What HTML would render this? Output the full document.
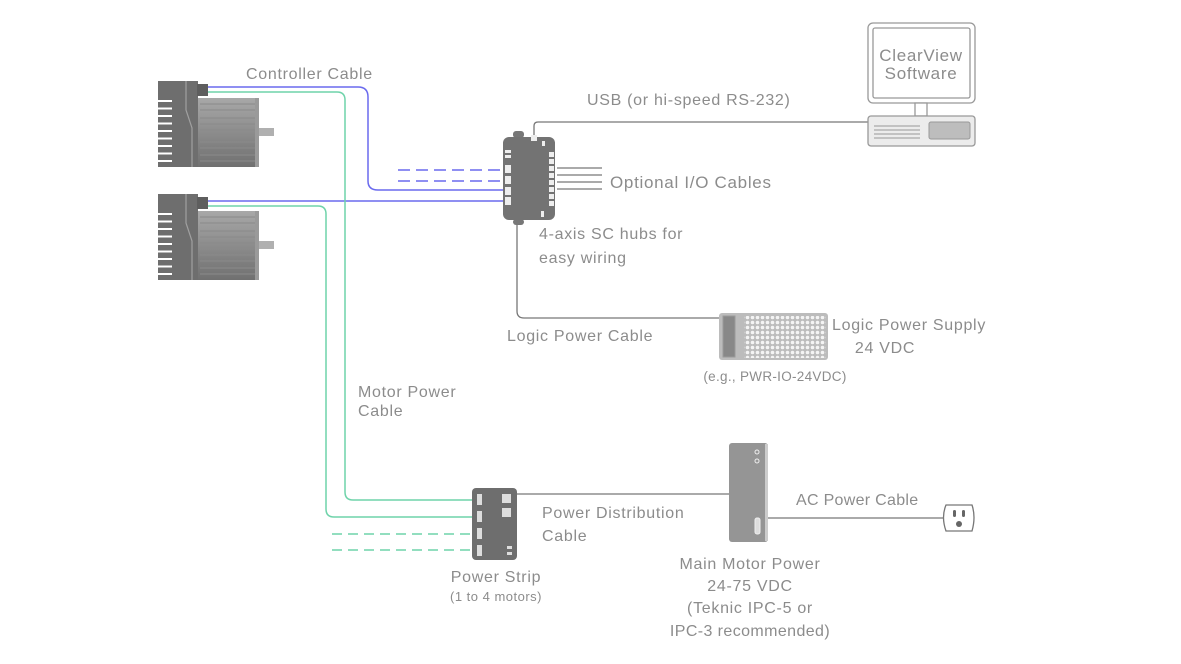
<!DOCTYPE html>
<html><head><meta charset="utf-8"><style>
body{margin:0;background:#fff}
svg{display:block}
text{font-family:"Liberation Sans",sans-serif;fill:#8c8c8c;font-size:16px;letter-spacing:0.7px}
</style></head><body>
<svg width="1181" height="664" viewBox="0 0 1181 664" xmlns="http://www.w3.org/2000/svg">
<defs>
<linearGradient id="mg" x1="0" y1="0" x2="0" y2="1"><stop offset="0" stop-color="#a8a8a8"/><stop offset="1" stop-color="#707070"/></linearGradient>
<g id="motor">
<rect x="158" y="81" width="40" height="86" fill="#6e6e6e"/>
<rect x="197" y="84" width="11" height="12" fill="#5e5e5e"/>
<rect x="198" y="98" width="58" height="69" fill="url(#mg)"/>
<g stroke="#8a8a8a" stroke-width="1">
<line x1="200" y1="104" x2="255" y2="104"/><line x1="200" y1="110" x2="255" y2="110"/><line x1="200" y1="118" x2="255" y2="118"/><line x1="200" y1="124" x2="255" y2="124"/><line x1="200" y1="130" x2="255" y2="130"/><line x1="200" y1="136" x2="255" y2="136"/><line x1="200" y1="142" x2="255" y2="142"/><line x1="200" y1="148" x2="255" y2="148"/><line x1="200" y1="155" x2="255" y2="155"/><line x1="200" y1="161" x2="255" y2="161"/>
</g>
<rect x="255" y="98" width="4" height="69" fill="#9a9a9a"/>
<rect x="259" y="128" width="15" height="8" fill="#b0b0b0"/>
<path d="M186 81 L186 110 L192 128 L192 167" stroke="#a0a0a0" stroke-width="1.2" fill="none"/>
<g stroke="#fff" stroke-width="2">
<line x1="158" y1="101" x2="172" y2="101"/><line x1="158" y1="108.5" x2="172" y2="108.5"/><line x1="158" y1="116" x2="172" y2="116"/><line x1="158" y1="123.5" x2="172" y2="123.5"/><line x1="158" y1="131" x2="172" y2="131"/><line x1="158" y1="138.5" x2="172" y2="138.5"/><line x1="158" y1="146" x2="172" y2="146"/><line x1="158" y1="153.5" x2="172" y2="153.5"/><line x1="158" y1="161" x2="172" y2="161"/>
</g>
</g>
</defs>

<g fill="none" stroke-width="1.5">
<path d="M208 87 H358 Q368 87 368 97 V181 Q368 190 378 190 H505" stroke="#6a6aee"/>
<path d="M208 201 H505" stroke="#6a6aee"/>
<path d="M398 170 H505 M398 181 H505" stroke="#6a6aee" stroke-dasharray="12 6"/>
<path d="M208 92 H337 Q345 92 345 100 V492 Q345 500 353 500 H473" stroke="#6fd3aa"/>
<path d="M208 206 H318 Q326 206 326 214 V509 Q326 517 334 517 H473" stroke="#6fd3aa"/>
<path d="M332 534 H473 M332 550 H473" stroke="#6fd3aa" stroke-dasharray="10 6"/>
<g stroke="#777" stroke-width="1.3">
<path d="M534 137 V126 Q534 122 538 122 H868"/>
<path d="M557 168 H602 M557 175 H602 M557 182 H602 M557 189 H602"/>
<path d="M517 222 V311 Q517 318 524 318 H720"/>
<path d="M517 494 H729"/>
<path d="M768 518 H945"/>
</g>
</g>

<use href="#motor"/>
<use href="#motor" transform="translate(0,113)"/>

<rect x="513" y="131" width="11" height="7" rx="3" fill="#777"/>
<rect x="513" y="219" width="11" height="6" rx="3" fill="#777"/>
<rect x="503" y="137" width="52" height="83" rx="6" fill="#737373"/>
<rect x="531" y="135" width="6" height="6" fill="#eee"/>
<rect x="542" y="141" width="3" height="5" fill="#eee"/>
<rect x="505" y="150" width="6" height="3" fill="#eee"/><rect x="505" y="155" width="6" height="3" fill="#eee"/>
<rect x="505" y="165" width="6" height="8" fill="#eee"/><rect x="505" y="176" width="6" height="8" fill="#eee"/><rect x="505" y="187" width="6" height="8" fill="#eee"/><rect x="505" y="197" width="6" height="8" fill="#eee"/>
<g fill="#eee"><rect x="549" y="152" width="5" height="5"/><rect x="549" y="159" width="5" height="5"/><rect x="549" y="166" width="5" height="5"/><rect x="549" y="173" width="5" height="5"/><rect x="549" y="180" width="5" height="5"/><rect x="549" y="187" width="5" height="5"/><rect x="549" y="194" width="5" height="5"/><rect x="549" y="201" width="5" height="5"/></g>
<rect x="541" y="211" width="3" height="6" fill="#eee"/>

<rect x="868" y="23" width="107" height="80" rx="5" fill="#fff" stroke="#999" stroke-width="1.3"/>
<rect x="873" y="28" width="97" height="70" rx="2" fill="#fff" stroke="#999" stroke-width="1.3"/>
<rect x="915" y="103" width="12" height="13" fill="#fff" stroke="#999" stroke-width="1.3"/>
<rect x="868" y="116" width="107" height="30" rx="3" fill="#ececec" stroke="#999" stroke-width="1.3"/>
<rect x="929" y="122" width="41" height="17" rx="2" fill="#bdbdbd" stroke="#999"/>
<g stroke="#999"><line x1="874" y1="126" x2="920" y2="126"/><line x1="874" y1="130" x2="920" y2="130"/><line x1="874" y1="134" x2="920" y2="134"/><line x1="874" y1="138" x2="920" y2="138"/></g>
<text x="921" y="61" text-anchor="middle" style="font-size:17px">ClearView</text>
<text x="921" y="79" text-anchor="middle" style="font-size:17px">Software</text>

<rect x="719" y="313" width="109" height="47" rx="3" fill="#bcbcbc"/>
<rect x="723" y="316" width="12" height="41" fill="#888" stroke="#9a9a9a"/>
<pattern id="dots" width="5" height="5" patternUnits="userSpaceOnUse"><rect width="5" height="5" fill="#bcbcbc"/><circle cx="2.5" cy="2.5" r="1.8" fill="#f4f4f4"/></pattern>
<rect x="744" y="316" width="82" height="42" fill="url(#dots)"/>

<rect x="472" y="488" width="45" height="72" rx="4" fill="#6e6e6e"/>
<g fill="#ddd"><rect x="477" y="494" width="5" height="11"/><rect x="477" y="511" width="5" height="11"/><rect x="477" y="528" width="5" height="11"/><rect x="477" y="545" width="5" height="11"/><rect x="502" y="494" width="9" height="9"/><rect x="502" y="508" width="9" height="9"/><rect x="507" y="546" width="5" height="3"/><rect x="507" y="552" width="5" height="3"/></g>

<rect x="729" y="443" width="39" height="99" rx="3" fill="#959595"/>
<rect x="765" y="444" width="3" height="97" fill="#ccc"/>
<circle cx="757" cy="452" r="2" fill="none" stroke="#eee"/><circle cx="757" cy="461" r="2" fill="none" stroke="#eee"/>
<rect x="755" y="518" width="5" height="16" rx="2" fill="#ddd" stroke="#eee"/>

<path d="M946 505 H972 Q976 517 972 531 H946 Q941 517 946 505 Z" fill="#fff" stroke="#777" stroke-width="1.3"/>
<rect x="953" y="510" width="3" height="7" rx="1.5" fill="#666"/><rect x="962" y="510" width="3" height="7" rx="1.5" fill="#666"/>
<circle cx="959" cy="524" r="3" fill="#666"/>

<text x="246" y="79">Controller Cable</text>
<text x="587" y="105">USB (or hi-speed RS-232)</text>
<text x="610" y="188" style="font-size:17px">Optional I/O Cables</text>
<text x="539" y="239">4-axis SC hubs for</text>
<text x="539" y="263">easy wiring</text>
<text x="507" y="341">Logic Power Cable</text>
<text x="832" y="330">Logic Power Supply</text>
<text x="885" y="353" text-anchor="middle">24 VDC</text>
<text x="775" y="381" text-anchor="middle" style="font-size:13.5px;letter-spacing:0.3px">(e.g., PWR-IO-24VDC)</text>
<text x="358" y="397">Motor Power</text>
<text x="358" y="416">Cable</text>
<text x="542" y="518">Power Distribution</text>
<text x="542" y="541">Cable</text>
<text x="796" y="505" style="letter-spacing:0.3px">AC Power Cable</text>
<text x="496" y="582" text-anchor="middle">Power Strip</text>
<text x="496" y="601" text-anchor="middle" style="font-size:13px;letter-spacing:0.5px">(1 to 4 motors)</text>
<text x="750" y="569" text-anchor="middle">Main Motor Power</text>
<text x="750" y="591" text-anchor="middle">24-75 VDC</text>
<text x="750" y="613" text-anchor="middle">(Teknic IPC-5 or</text>
<text x="750" y="636" text-anchor="middle" style="letter-spacing:0.4px">IPC-3 recommended)</text>
</svg>
</body></html>
